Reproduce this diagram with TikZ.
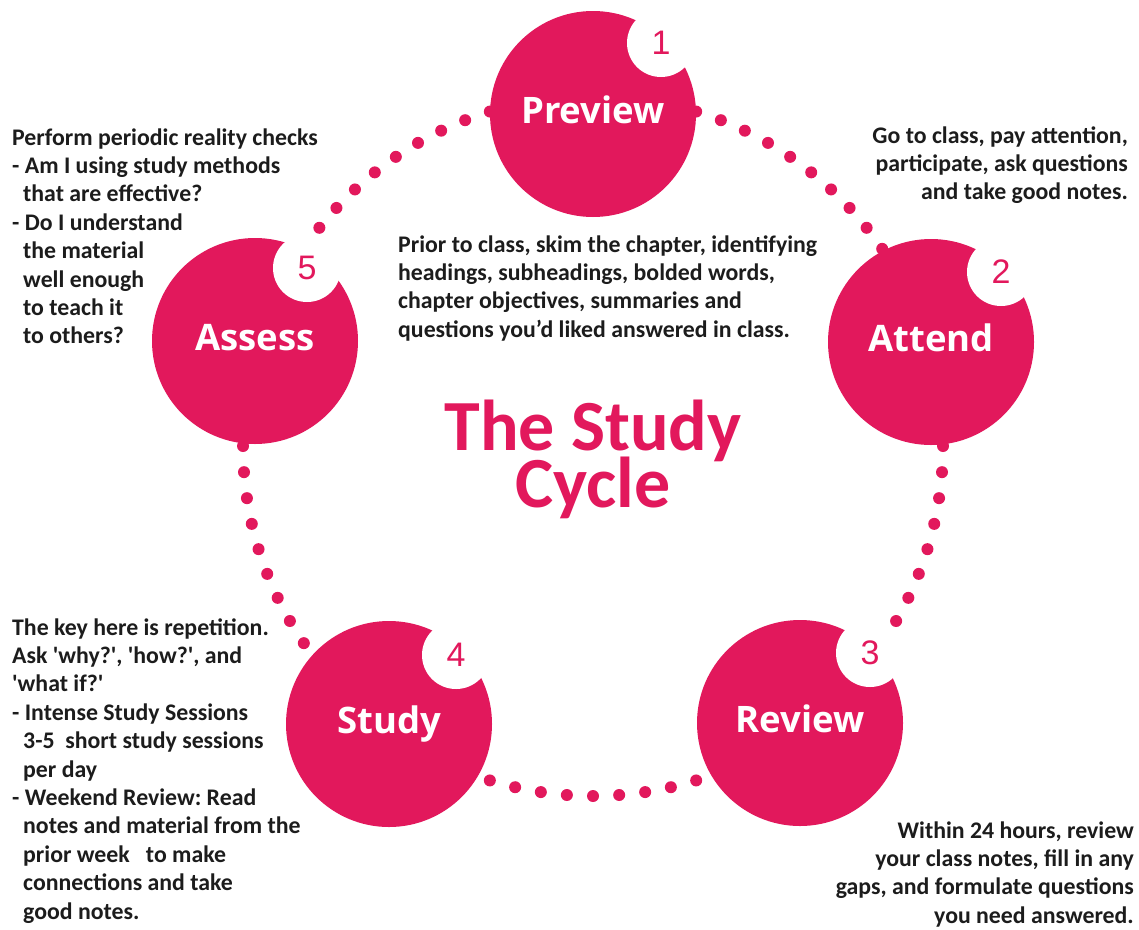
\documentclass[tikz,border=0pt]{standalone}
\usepackage{fontspec}
\setmainfont{Carlito}
\newfontfamily\labelfont{Open Sans}
\newfontfamily\numfont{Liberation Sans}
\usetikzlibrary{calc}
\definecolor{cyclepink}{RGB}{226,24,92}
\definecolor{bodytext}{RGB}{28,28,28}
\newcommand\ind{\hspace*{11pt}}
\newcommand\lefttext[1]{\vtop{\lineskiplimit=-100pt\halign{##\hfil\cr#1\crcr}}}
\newcommand\righttext[1]{\vtop{\lineskiplimit=-100pt\halign{\hfil##\cr#1\crcr}}}
\newcommand\centertext[1]{\vtop{\lineskiplimit=-100pt\halign{\hfil##\hfil\cr#1\crcr}}}
\tikzset{
  stage/.style={circle, fill=cyclepink, minimum size=206pt, inner sep=0pt},
  notch/.style={circle, fill=white, minimum size=68pt, inner sep=0pt},
  stagelabel/.style={text=white, font=\labelfont\bfseries\fontsize{36.5}{40}\selectfont, inner sep=0pt, anchor=base},
  numlabel/.style={text=cyclepink, font=\numfont\fontsize{34}{36}\selectfont, inner sep=0pt},
  body/.style={text=bodytext, font=\bfseries\fontsize{23.8}{28.4}\selectfont\frenchspacing, inner sep=0pt},
  titletext/.style={text=cyclepink, font=\bfseries\fontsize{72}{57.5}\selectfont, inner sep=0pt, anchor=base},
  cycledot/.style={fill=cyclepink}
}
\begin{document}
\begin{tikzpicture}[x=1pt,y=-1pt]
\fill[white] (0,0) rectangle (1139,929);
\useasboundingbox (0,0) rectangle (1139,929);
% dotted cycle path
\coordinate (hub) at (593,446);
\foreach \k in {0,...,83}{
  \pgfmathsetmacro\ang{90+\k*4.2857143}
  \fill[cycledot] ($(hub)+({350*cos(\ang)},{350*sin(\ang)})$) circle[radius=6];
}
% stages
\node[stage] (preview) at (593,114) {};
\node[stage] (attend) at (931,342) {};
\node[stage] (review) at (800,723) {};
\node[stage] (study) at (389,724) {};
\node[stage] (assess) at (255,341) {};
% notches
\node[notch] (n1) at (661,43) {};
\node[notch] (n2) at (1001,272) {};
\node[notch] (n3) at (870,653) {};
\node[notch] (n4) at (456,655) {};
\node[notch] (n5) at (307,268) {};
\node[numlabel] (num1) at (n1) {1};
\node[numlabel] (num2) at (n2) {2};
\node[numlabel] (num3) at (n3) {3};
\node[numlabel] (num4) at (n4) {4};
\node[numlabel] (num5) at (n5) {5};
% stage labels
\node[stagelabel] (lpreview) at ([yshift=-9pt]preview.center) {Preview};
\node[stagelabel] (lattend) at ([yshift=-9pt]attend.center) {Attend};
\node[stagelabel] (lreview) at ([yshift=-9pt]review.center) {Review};
\node[stagelabel] (lstudy) at ([yshift=-9pt]study.center) {Study};
\node[stagelabel] (lassess) at ([yshift=-9pt]assess.center) {Assess};
% title
\node[titletext] (title) at (593,450) {\centertext{The Study\cr Cycle}};
% descriptions
\node[body, anchor=base west] (tassess) at (12,145) {\lefttext{Perform periodic reality checks\cr
- Am I using study methods\cr
\ind that are effective?\cr
- Do I understand\cr
\ind the material\cr
\ind well enough\cr
\ind to teach it\cr
\ind to others?}};
\node[body, anchor=base east] (tattend) at (1128,143) {\righttext{Go to class, pay attention,\cr
participate, ask questions\cr
and take good notes.}};
\node[body, anchor=base west] (tpreview) at (398,252) {\lefttext{Prior to class, skim the chapter, identifying\cr
headings, subheadings, bolded words,\cr
chapter objectives, summaries and\cr
questions you’d liked answered in class.}};
\node[body, anchor=base west] (tstudy) at (12,635) {\lefttext{The key here is repetition.\cr
Ask \textquotesingle why?\textquotesingle, \textquotesingle how?\textquotesingle, and\cr
\textquotesingle what if?\textquotesingle\cr
- Intense Study Sessions\cr
\ind 3-5\ \ short study sessions\cr
\ind per day\cr
- Weekend Review: Read\cr
\ind notes and material from the\cr
\ind prior week\ \ \ to make\cr
\ind connections and take\cr
\ind good notes.}};
\node[body, anchor=base east] (treview) at (1134,838) {\righttext{Within 24 hours, review\cr
your class notes, fill in any\cr
gaps, and formulate questions\cr
you need answered.}};
\end{tikzpicture}
\end{document}
